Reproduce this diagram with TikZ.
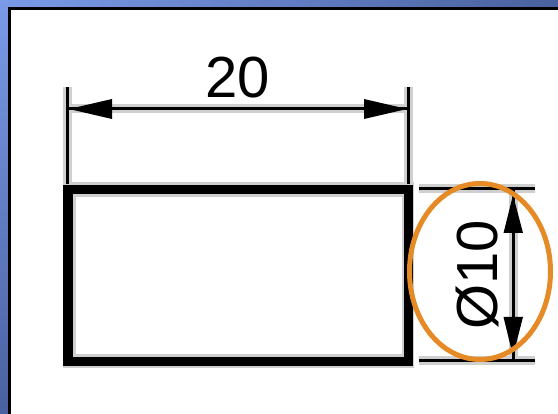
\documentclass[tikz,border=0pt]{standalone}
\usepackage{fontspec}
\setmainfont{Liberation Sans}
\definecolor{halo}{HTML}{CFCFCF}
\definecolor{ringc}{HTML}{E58A24}
\definecolor{bandA}{HTML}{7A9AE8}
\definecolor{bandB}{HTML}{4A619F}
\tikzset{
  x=1pt,y=-1pt,
  haloline/.style={halo,line width=9pt},
  thinline/.style={black,line width=3pt},
  thickbox/.style={black,line width=9.5pt},
  headshape/.style={fill=black,draw=none},
  dimtext/.style={font=\fontsize{58}{58}\selectfont,inner sep=0pt,text=black},
  ring/.style={draw=ringc,line width=5pt}
}
\begin{document}
\begin{tikzpicture}
\useasboundingbox (0,0) rectangle (558,414);
% blue band and white sheet
\shade[left color=bandA,right color=bandB] (0,0) rectangle (558,8);
\shade[top color=bandA,bottom color=bandB] (0,0) rectangle (8,414);
\fill[white] (8,7) rectangle (558,414);
\draw[black,line width=3pt] (9.5,414) -- (9.5,8.5) -- (558,8.5);
% named points
\coordinate (la) at (67.5,87);
\coordinate (lb) at (67.5,184);
\coordinate (ra) at (408,87);
\coordinate (rb) at (408,184);
\coordinate (hl) at (67.5,109);
\coordinate (hr) at (408,109);
\coordinate (ta) at (419,189);
\coordinate (tb) at (535,189);
\coordinate (ba) at (419,361);
\coordinate (bb) at (535,361);
\coordinate (vt) at (513,189);
\coordinate (vb) at (513,361);
% halos
\draw[haloline] (la) -- (lb);
\draw[haloline] (ra) -- (rb);
\draw[haloline] (hl) -- (hr);
\draw[haloline] (ta) -- (tb);
\draw[haloline] (ba) -- (bb);
\draw[haloline] (vt) -- (vb);
\fill[halo] (63,182) rectangle (413.5,368);
\fill[white] (75.5,197) rectangle (401.5,354);
% lines
\draw[thinline] (la) -- (lb);
\draw[thinline] (ra) -- (rb);
\draw[thinline] (hl) -- (hr);
\draw[thinline] (ta) -- (tb);
\draw[thinline] (ba) -- (bb);
\draw[thinline] (vt) -- (vb);
\draw[thickbox] (68,189.5) rectangle (408.5,361.5);
% arrowheads
\fill[headshape] (69,109) -- (112,99) -- (112,119) -- cycle;
\fill[headshape] (407,109) -- (364,99) -- (364,119) -- cycle;
\fill[headshape] (513,195) -- (503.5,233) -- (523,233) -- cycle;
\fill[headshape] (513,356) -- (503.5,317) -- (523,317) -- cycle;
% labels
\node[dimtext] (w) at (238,78) {20};
\node[dimtext,rotate=90] (d) at (477,275) {Ø10};
% highlight
\draw[ring] (480,271.5) ellipse [x radius=70.5,y radius=88];
\end{tikzpicture}
\end{document}
